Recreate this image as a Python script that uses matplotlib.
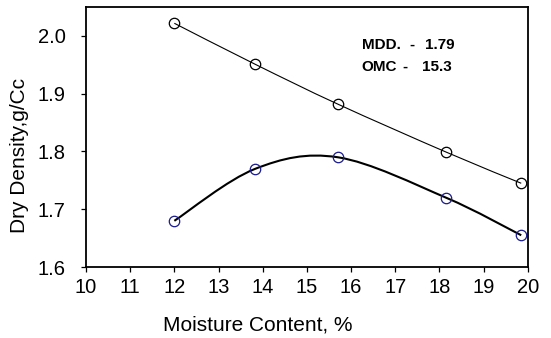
import numpy as np
import matplotlib.pyplot as plt
from matplotlib.path import Path
from matplotlib.patches import PathPatch

plt.rcParams['font.family'] = ['Liberation Sans', 'DejaVu Sans']

moisture = [12.0, 13.83, 15.7, 18.15, 19.85]
dry_density = [1.68, 1.77, 1.79, 1.72, 1.655]
zav_density = [2.022, 1.951, 1.882, 1.799, 1.745]


def smooth_path(x, y):
    # excel-style smoothed line: bezier segments through the points
    p = np.column_stack([x, y])
    pts = np.vstack([p[0], p, p[-1]])
    verts = [p[0]]
    codes = [Path.MOVETO]
    for i in range(1, len(pts) - 2):
        c1 = pts[i] + (pts[i + 1] - pts[i - 1]) / 6.0
        c2 = pts[i + 1] - (pts[i + 2] - pts[i]) / 6.0
        verts += [c1, c2, pts[i + 1]]
        codes += [Path.CURVE4] * 3
    return Path(verts, codes)


fig = plt.figure(figsize=(5.51, 3.38), dpi=100)
ax = fig.add_axes([0.156, 0.21, 0.802, 0.769])

ax.add_patch(PathPatch(smooth_path(moisture, zav_density), fc='none',
                       ec='black', lw=0.8))
ax.plot(moisture, zav_density, ls='none', marker='o', ms=7.5,
        mfc='none', mec='black', mew=0.9)

ax.add_patch(PathPatch(smooth_path(moisture, dry_density), fc='none',
                       ec='black', lw=1.5))
ax.plot(moisture, dry_density, ls='none', marker='o', ms=7.5,
        mfc='none', mec='#1a1a8c', mew=0.9)

# MDD / OMC note
kw = dict(transform=ax.transAxes, fontsize=11, fontweight='heavy', va='center')
ax.text(0.624, 0.854, 'MDD.', **kw)
ax.text(0.733, 0.854, '-', **kw)
ax.text(0.767, 0.854, '1.79', **kw)
ax.text(0.624, 0.769, 'OMC', **kw)
ax.text(0.716, 0.769, '-', **kw)
ax.text(0.760, 0.769, '15.3', **kw)

ax.set_xlim(10, 20)
ax.set_ylim(1.6, 2.05)
ax.set_xticks(range(10, 21))
ax.set_yticks([1.6, 1.7, 1.8, 1.9, 2.0])
ax.set_yticklabels(['1.6', '1.7', '1.8', '1.9', '2.0'])
ax.tick_params(direction='out', labelsize=14.5, width=0.9, length=3.6)
ax.tick_params(axis='x', pad=4)
ax.tick_params(axis='y', pad=11)
for s in ax.spines.values():
    s.set_linewidth(1.3)
ax.set_xlabel('Moisture Content, %', fontsize=15)
ax.set_ylabel('Dry Density,g/Cc', fontsize=15)
ax.xaxis.set_label_coords(0.389, -0.185)
ax.yaxis.set_label_coords(-0.129, 0.429)

fig.savefig('out.png', dpi=100)
